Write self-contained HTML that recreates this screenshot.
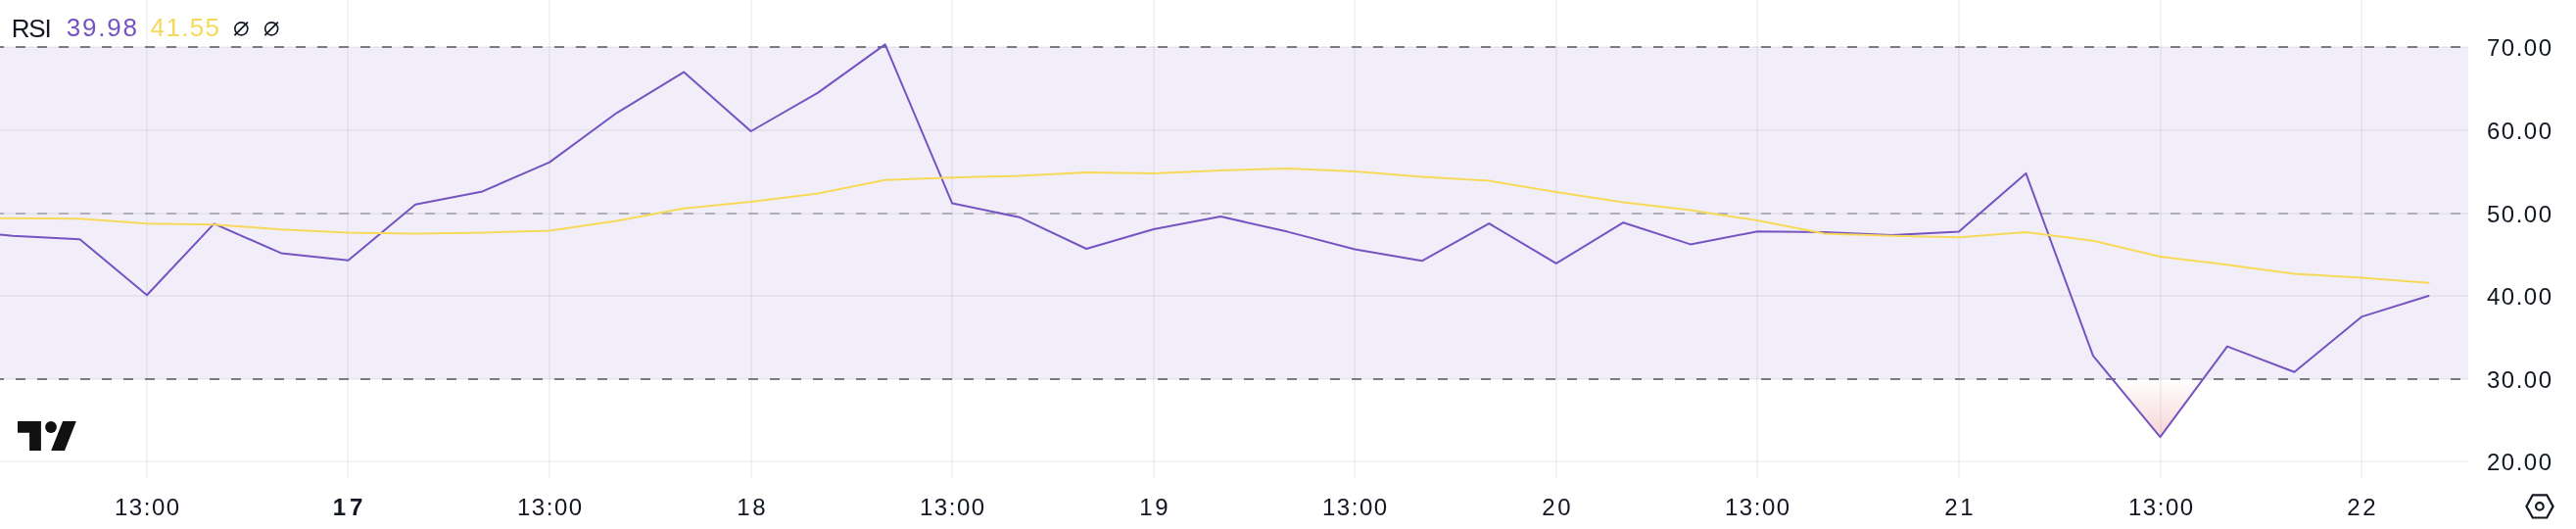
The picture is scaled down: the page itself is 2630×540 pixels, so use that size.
<!DOCTYPE html><html><head><meta charset="utf-8"><style>
html,body{margin:0;padding:0;background:#fff;}
body{width:2630px;height:540px;overflow:hidden;position:relative;font-family:"Liberation Sans",sans-serif;}
svg{position:absolute;left:0;top:0;will-change:transform;}
.t{font-family:"Liberation Sans",sans-serif;}
</style></head><body>
<svg width="2630" height="540" viewBox="0 0 2630 540">
<defs><clipPath id="pc"><rect x="0" y="0" width="2520" height="488"/></clipPath>
<linearGradient id="os" gradientUnits="userSpaceOnUse" x1="0" y1="386.40" x2="0" y2="640.20">
<stop offset="0" stop-color="#df484c" stop-opacity="0"/><stop offset="1" stop-color="#df484c" stop-opacity="1"/></linearGradient>
<clipPath id="below30"><rect x="0" y="386.40" width="2520" height="600"/></clipPath>
</defs>
<rect x="0" y="0" width="2630" height="540" fill="#fff"/>
<g fill="rgba(42,46,57,0.06)" shape-rendering="crispEdges">
<rect x="149" y="0" width="2" height="488"/>
<rect x="354" y="0" width="2" height="488"/>
<rect x="560" y="0" width="2" height="488"/>
<rect x="766" y="0" width="2" height="488"/>
<rect x="971" y="0" width="2" height="488"/>
<rect x="1177" y="0" width="2" height="488"/>
<rect x="1382" y="0" width="2" height="488"/>
<rect x="1588" y="0" width="2" height="488"/>
<rect x="1793" y="0" width="2" height="488"/>
<rect x="1999" y="0" width="2" height="488"/>
<rect x="2205" y="0" width="2" height="488"/>
<rect x="2410" y="0" width="2" height="488"/>
<rect x="0" y="47" width="2520" height="2"/>
<rect x="0" y="132" width="2520" height="2"/>
<rect x="0" y="217" width="2520" height="2"/>
<rect x="0" y="301" width="2520" height="2"/>
<rect x="0" y="386" width="2520" height="2"/>
<rect x="0" y="470" width="2520" height="2"/>
</g>
<rect x="0" y="48" width="2520" height="339" fill="rgba(126,87,194,0.1)" shape-rendering="crispEdges"/>
<g clip-path="url(#pc)">
<polygon clip-path="url(#below30)" points="-55.55,234.00 12.97,240.80 81.48,244.20 150.00,301.20 218.51,228.40 287.03,258.40 355.55,265.80 424.06,208.70 492.57,195.40 561.09,165.60 629.61,115.30 698.12,73.60 766.63,134.00 835.15,94.60 903.66,45.40 972.18,207.60 1040.70,221.70 1109.21,254.00 1177.72,234.00 1246.24,221.00 1314.76,236.60 1383.27,254.50 1451.79,266.30 1520.30,228.10 1588.82,268.90 1657.33,227.20 1725.85,249.40 1794.36,236.30 1862.88,237.10 1931.39,239.90 1999.90,236.60 2068.42,176.90 2136.93,363.10 2205.45,446.10 2273.97,353.60 2342.48,379.80 2410.99,323.40 2479.51,302.00 2479.51,387.00 -55.55,387.00" fill="url(#os)"/>
<line x1="0" y1="48" x2="2520" y2="48" stroke="#787b86" stroke-width="2" stroke-dasharray="10 12" stroke-dashoffset="6" shape-rendering="crispEdges"/>
<line x1="0" y1="387" x2="2520" y2="387" stroke="#787b86" stroke-width="2" stroke-dasharray="10 12" stroke-dashoffset="6" shape-rendering="crispEdges"/>
<line x1="0" y1="218" x2="2520" y2="218" stroke="rgba(120,123,134,0.5)" stroke-width="2" stroke-dasharray="10 12" stroke-dashoffset="6" shape-rendering="crispEdges"/>
<polyline points="-55.55,234.00 12.97,240.80 81.48,244.20 150.00,301.20 218.51,228.40 287.03,258.40 355.55,265.80 424.06,208.70 492.57,195.40 561.09,165.60 629.61,115.30 698.12,73.60 766.63,134.00 835.15,94.60 903.66,45.40 972.18,207.60 1040.70,221.70 1109.21,254.00 1177.72,234.00 1246.24,221.00 1314.76,236.60 1383.27,254.50 1451.79,266.30 1520.30,228.10 1588.82,268.90 1657.33,227.20 1725.85,249.40 1794.36,236.30 1862.88,237.10 1931.39,239.90 1999.90,236.60 2068.42,176.90 2136.93,363.10 2205.45,446.10 2273.97,353.60 2342.48,379.80 2410.99,323.40 2479.51,302.00" fill="none" stroke="#7554c2" stroke-width="2" stroke-linejoin="round" stroke-linecap="round"/>
<polyline points="-55.55,222.50 12.97,222.70 81.48,223.20 150.00,228.20 218.51,229.20 287.03,234.30 355.55,237.40 424.06,238.60 492.57,237.60 561.09,235.40 629.61,225.40 698.12,212.80 766.63,206.10 835.15,197.40 903.66,183.80 972.18,181.30 1040.70,179.50 1109.21,176.10 1177.72,176.90 1246.24,174.10 1314.76,172.00 1383.27,175.10 1451.79,180.50 1520.30,184.60 1588.82,195.90 1657.33,206.60 1725.85,214.60 1794.36,225.10 1862.88,238.60 1931.39,240.70 1999.90,242.20 2068.42,237.10 2136.93,245.80 2205.45,262.00 2273.97,270.30 2342.48,279.40 2410.99,283.50 2479.51,288.80" fill="none" stroke="#f7d959" stroke-width="2" stroke-linejoin="round" stroke-linecap="round"/>
</g>
<g fill="#111111">
<path d="M18 430.1H41.9V459.9H30.1V441.8H18Z"/>
<circle cx="52" cy="436" r="5.9"/>
<path d="M64.1 430.1H77.8L66 459.9H52.2Z"/>
</g>
<g fill="none" stroke="#131722" stroke-width="2.2">
<path d="M2585.8 505.3H2600.2L2606.6 516.9L2600.2 528.5H2585.8L2579.4 516.9Z" stroke-linejoin="miter"/>
<circle cx="2592.9" cy="516.9" r="3.8"/>
</g>
<g class="t" font-size="24" fill="#131722" letter-spacing="1.5">
<text x="2539" y="57.0">70.00</text>
<text x="2539" y="142.0">60.00</text>
<text x="2539" y="227.0">50.00</text>
<text x="2539" y="311.0">40.00</text>
<text x="2539" y="396.0">30.00</text>
<text x="2539" y="480.0">20.00</text>
</g>
<g class="t" font-size="24" fill="#131722" text-anchor="middle" letter-spacing="1.5">
<text x="150.8" y="526" letter-spacing="1.5">13:00</text>
<text x="357.0" y="526" letter-spacing="4.0" font-weight="bold">17</text>
<text x="561.8" y="526" letter-spacing="1.5">13:00</text>
<text x="768.3" y="526" letter-spacing="2.6">18</text>
<text x="972.8" y="526" letter-spacing="1.5">13:00</text>
<text x="1179.3" y="526" letter-spacing="2.6">19</text>
<text x="1383.8" y="526" letter-spacing="1.5">13:00</text>
<text x="1590.3" y="526" letter-spacing="2.6">20</text>
<text x="1794.8" y="526" letter-spacing="1.5">13:00</text>
<text x="2001.3" y="526" letter-spacing="2.6">21</text>
<text x="2206.8" y="526" letter-spacing="1.5">13:00</text>
<text x="2412.3" y="526" letter-spacing="2.6">22</text>
</g>
<g class="t" font-size="26">
<text x="11.8" y="37.8" fill="#131722" letter-spacing="-1.2">RSI</text>
<text x="67.8" y="37.3" fill="#7554c2" letter-spacing="1.8">39.98</text>
<text x="153.6" y="37.3" fill="#f7d959" letter-spacing="1.35">41.55</text>
</g>
<g fill="none" stroke="#131722"><circle cx="246.35" cy="29.35" r="6.5" stroke-width="1.6"/><line x1="239.45" y1="36.1" x2="252.95" y2="22.6" stroke-width="1.8"/></g>
<g fill="none" stroke="#131722"><circle cx="277.20" cy="29.35" r="6.5" stroke-width="1.6"/><line x1="270.30" y1="36.1" x2="283.80" y2="22.6" stroke-width="1.8"/></g>
</svg></body></html>
